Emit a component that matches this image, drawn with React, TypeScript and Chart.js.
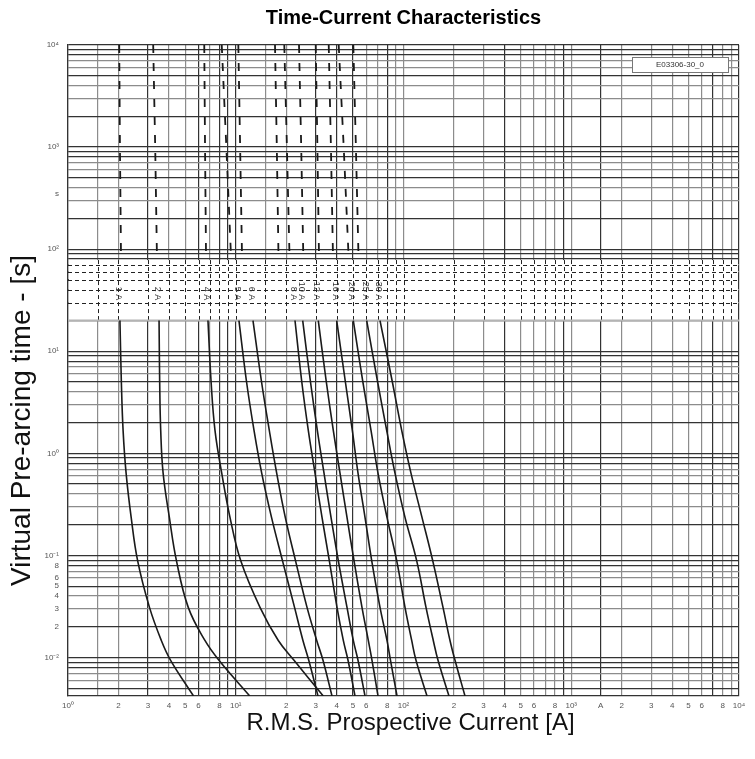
import { useEffect, useRef } from 'react';
import { Chart, registerables } from 'chart.js';

Chart.register(...registerables);

const TITLE = 'Time-Current Characteristics';
const X_TITLE = 'R.M.S. Prospective Current [A]';
const Y_TITLE = 'Virtual Pre-arcing time - [s]';
const TAG = 'E03306-30_0';

const X_MIN = 1;
const X_MAX = 10000;
const Y_MIN = 0.0042;
const Y_MAX = 10000;

const MANTISSAS = [1, 2, 3, 4, 5, 6, 7, 8, 9];
const X_DECADES = [1, 10, 100, 1000];
const X_EXTRA = [1.5, 15, 1500];
const X_LABELED_MANTISSAS = [2, 3, 4, 5, 6, 8];
const X_UNIT_VALUE = 1500;
const X_UNIT_LABEL = 'A';
const Y_DECADES = [0.001, 0.01, 0.1, 1, 10, 100, 1000];
const Y_LABELED_DECADE = 0.01;
const Y_LABELED_MANTISSAS = [2, 3, 4, 5, 6, 8];
const Y_UNIT_VALUE = 350;
const Y_UNIT_LABEL = 's';

// band of dashed grid (seconds)
const BAND_TOP = 80;
const BAND_BOTTOM = 20;
const BAND_LINES = [70, 60, 50, 40, 30];
const LABEL_TIME = 31.6;

// times (s) of the dashed long-time part and of the solid part
const T_LONG = [10000, 1000, 85];
const T_SHORT = [20, 5, 1.68, 0.64, 0.236, 0.089, 0.031, 0.0147, 0.0094, 0.0042];

const FUSE_LABELS = ['1 A', '2 A', '4 A', '5 A', '6 A', '8 A', '10 A', '12 A', '16 A', '20 A', '25 A', '30 A'];

// currents (A) of each fuse, dashed part
const L_1A = [2.02, 2.04, 2.07];
const L_2A = [3.22, 3.31, 3.39];
const L_4A = [6.49, 6.56, 6.65];
const L_5A = [8.25, 8.79, 9.37];
const L_6A = [10.36, 10.62, 10.9];
const L_8A = [17.14, 17.57, 17.98];
const L_10A = [19.47, 20.18, 20.92];
const L_12A = [23.83, 24.56, 25.28];
const L_16A = [29.97, 30.67, 31.35];
const L_20A = [35.83, 36.93, 37.99];
const L_25A = [41.09, 44.01, 47.07];
const L_30A = [50.21, 52.03, 53.92];

// currents (A) of each fuse, solid part
const S_1A = [2.04, 2.08, 2.13, 2.22, 2.38, 2.6, 3.06, 3.6, 4.09, 5.6];
const S_2A = [3.49, 3.52, 3.57, 3.69, 4.02, 4.43, 5.21, 6.55, 7.94, 12.12];
const S_4A = [6.83, 7.13, 7.52, 8.25, 9.24, 10.7, 13.95, 17.93, 22.25, 33.25];
const S_5A = [10.45, 11.6, 12.85, 14.28, 16.34, 18.99, 22.41, 25.15, 27.24, 30.92];
const S_6A = [12.67, 14.25, 15.85, 17.54, 19.74, 22.71, 26.6, 30.38, 33.12, 37.48];
const S_8A = [22.55, 24.76, 27.07, 29.68, 32.68, 36.12, 40.14, 43.77, 46.7, 51.4];
const S_10A = [25.07, 27.9, 30.64, 33.59, 36.98, 40.87, 46.05, 50.21, 53.56, 58.96];
const S_12A = [31.05, 34.67, 38.15, 41.83, 46.05, 50.7, 56.56, 61.69, 64.9, 70.47];
const S_16A = [39.98, 45.04, 49.54, 53.56, 58.96, 64.63, 72.44, 79.72, 83.66, 91.48];
const S_20A = [50.21, 57.27, 64.02, 70.47, 79.72, 91.09, 102.1, 111.9, 118.7, 138.1];
const S_25A = [60.35, 70.11, 79.39, 88.98, 102.1, 119.8, 136.2, 150.5, 160.6, 186.7];
const S_30A = [72.44, 85.83, 97.56, 110.8, 128.9, 149.3, 172.0, 189.3, 202.8, 232.6];

const LONG_PARTS = [L_1A, L_2A, L_4A, L_5A, L_6A, L_8A, L_10A, L_12A, L_16A, L_20A, L_25A, L_30A];
const SHORT_PARTS = [S_1A, S_2A, S_4A, S_5A, S_6A, S_8A, S_10A, S_12A, S_16A, S_20A, S_25A, S_30A];

const FONT = "'Liberation Sans', Arial, sans-serif";
const DARK = '#333333';
const GRAY = '#8c8c8c';
const CURVE = '#1a1a1a';

const SUP: Record<string, string> = { '0': '⁰', '1': '¹', '2': '²', '3': '³', '4': '⁴', '-': '⁻' };
const sup = (n: number) => String(n).split('').map((c) => SUP[c] || c).join('');

const decadeOf = (v: number) => Math.floor(Math.log10(v) + 1e-9);
const mantissa = (v: number) => Math.round((v / Math.pow(10, decadeOf(v))) * 10) / 10;
const isDecade = (v: number) => Math.abs(mantissa(v) - 1) < 1e-6;

const X_TICKS = [
  ...X_DECADES.flatMap((d) => MANTISSAS.map((m) => m * d)),
  ...X_EXTRA,
  X_MAX,
].sort((a, b) => a - b);

const Y_TICKS = [
  ...Y_DECADES.flatMap((d) => MANTISSAS.map((m) => +(m * d).toPrecision(6))),
  Y_UNIT_VALUE,
  Y_MAX,
]
  .filter((v) => v >= Y_MIN)
  .sort((a, b) => a - b);

const xLabel = (v: number) => {
  if (Math.abs(v - X_UNIT_VALUE) < 1e-6) return X_UNIT_LABEL;
  if (isDecade(v)) return '10' + sup(decadeOf(v));
  const m = mantissa(v);
  return X_LABELED_MANTISSAS.includes(m) ? String(m) : '';
};

const yLabel = (v: number) => {
  if (Math.abs(v - Y_UNIT_VALUE) < 1e-6) return Y_UNIT_LABEL;
  if (isDecade(v)) return '10' + sup(decadeOf(v));
  const m = mantissa(v);
  if (Math.abs(Math.pow(10, decadeOf(v)) - Y_LABELED_DECADE) < 1e-9 && Y_LABELED_MANTISSAS.includes(m)) return String(m);
  return '';
};

const X_DARK = [1, 3, 6, 8, 9, 10, 30, 40, 50, 80, 400, 900, 1500, 7000, 10000];
const Y_DARK_MANTISSAS = [1, 2, 5, 8, 9];

const xGridColor = (v: number) => (X_DARK.some((d) => Math.abs(d - v) < 1e-6) ? DARK : GRAY);
const yGridColor = (v: number) => {
  if (Math.abs(v - Y_UNIT_VALUE) < 1e-6) return 'rgba(0,0,0,0)';
  return Y_DARK_MANTISSAS.includes(mantissa(v)) ? DARK : GRAY;
};

const bandPlugin = {
  id: 'band',
  beforeDatasetsDraw(chart: any) {
    const { ctx, chartArea: ca, scales } = chart;
    const x = scales.x;
    const y = scales.y;
    const yTop = y.getPixelForValue(BAND_TOP);
    const yBot = y.getPixelForValue(BAND_BOTTOM);
    ctx.save();
    ctx.fillStyle = '#ffffff';
    ctx.fillRect(ca.left + 1, yTop + 1, ca.right - ca.left - 2, yBot - yTop - 1);
    ctx.strokeStyle = '#222';
    ctx.lineWidth = 1;
    ctx.setLineDash([4, 3]);
    X_TICKS.forEach((v) => {
      if (v <= X_MIN || v >= X_MAX) return;
      const px = Math.round(x.getPixelForValue(v)) + 0.5;
      ctx.beginPath();
      ctx.moveTo(px, yTop + 1);
      ctx.lineTo(px, yBot);
      ctx.stroke();
    });
    BAND_LINES.forEach((t) => {
      const py = Math.round(y.getPixelForValue(t)) + 0.5;
      ctx.beginPath();
      ctx.moveTo(ca.left, py);
      ctx.lineTo(ca.right, py);
      ctx.stroke();
    });
    ctx.setLineDash([]);
    ctx.strokeStyle = '#b4b4b4';
    ctx.lineWidth = 2;
    ctx.beginPath();
    ctx.moveTo(ca.left, yBot);
    ctx.lineTo(ca.right, yBot);
    ctx.stroke();
    ctx.restore();
  },
  afterDatasetsDraw(chart: any) {
    const { ctx, scales } = chart;
    const x = scales.x;
    const y = scales.y;
    ctx.save();
    ctx.font = `9px ${FONT}`;
    ctx.fillStyle = '#333';
    ctx.textAlign = 'right';
    ctx.textBaseline = 'middle';
    FUSE_LABELS.forEach((label, i) => {
      const px = x.getPixelForValue(SHORT_PARTS[i][0]) - 1.5;
      const py = y.getPixelForValue(LABEL_TIME);
      ctx.save();
      ctx.translate(px, py);
      ctx.rotate(Math.PI / 2);
      ctx.fillText(label, 0, 0);
      ctx.restore();
    });
    ctx.restore();
  },
  afterDraw(chart: any) {
    const { ctx, chartArea: ca } = chart;
    ctx.save();
    // tag box
    const bx = ca.right - 107;
    const by = ca.top + 12;
    ctx.fillStyle = '#fff';
    ctx.fillRect(bx, by, 96, 15);
    ctx.strokeStyle = '#777';
    ctx.lineWidth = 1;
    ctx.strokeRect(bx + 0.5, by + 0.5, 96, 15);
    ctx.fillStyle = '#333';
    ctx.font = `8px ${FONT}`;
    ctx.textAlign = 'center';
    ctx.textBaseline = 'middle';
    ctx.fillText(TAG, bx + 48, by + 8);
    // axis titles
    ctx.fillStyle = '#111';
    ctx.font = `24px ${FONT}`;
    ctx.fillText(X_TITLE, (ca.left + ca.right) / 2 + 7, ca.bottom + 27);
    ctx.font = `28px ${FONT}`;
    ctx.translate(22, (ca.top + ca.bottom) / 2 + 50);
    ctx.rotate(-Math.PI / 2);
    ctx.fillText(Y_TITLE, 0, 0);
    ctx.restore();
  },
};

export default function App() {
  const ref = useRef<HTMLCanvasElement | null>(null);
  useEffect(() => {
    document.body.style.margin = '0';
    if (!ref.current) return;
    const datasets: any[] = [];
    FUSE_LABELS.forEach((label, i) => {
      datasets.push({
        label: label + ' long',
        data: LONG_PARTS[i].map((v, k) => ({ x: v, y: T_LONG[k] })),
        borderColor: CURVE,
        borderWidth: 1.8,
        borderDash: [8, 10],
        pointRadius: 0,
        showLine: true,
        tension: 0,
      });
      datasets.push({
        label,
        data: SHORT_PARTS[i].map((v, k) => ({ x: v, y: T_SHORT[k] })),
        borderColor: CURVE,
        borderWidth: 1.6,
        pointRadius: 0,
        showLine: true,
        tension: 0.4,
      });
    });
    const chart = new Chart(ref.current, {
      type: 'scatter',
      data: { datasets },
      plugins: [bandPlugin],
      options: {
        responsive: false,
        animation: false,
        events: [],
        layout: { padding: { left: 0, right: 16, top: 0, bottom: 0 } },
        plugins: {
          legend: { display: false },
          tooltip: { enabled: false },
          title: {
            display: true,
            text: TITLE,
            fullSize: false,
            color: '#000',
            font: { family: FONT, size: 20, weight: 'bold' },
            padding: { top: 6, bottom: 15 },
          },
        },
        scales: {
          x: {
            type: 'logarithmic',
            min: X_MIN,
            max: X_MAX,
            afterBuildTicks: (s: any) => {
              s.ticks = X_TICKS.map((v) => ({ value: v }));
            },
            afterFit: (s: any) => {
              s.height = 63;
              s.paddingLeft = 0;
              s.paddingRight = 0;
            },
            ticks: {
              autoSkip: false,
              maxRotation: 0,
              minRotation: 0,
              padding: 5,
              color: '#555',
              font: { family: FONT, size: 8 },
              callback: (v: any) => xLabel(Number(v)),
            },
            grid: {
              drawTicks: false,
              color: (c: any) => xGridColor(c.tick.value),
              lineWidth: 1.2,
            },
            border: { display: true, color: DARK, width: 1.2 },
          },
          y: {
            type: 'logarithmic',
            min: Y_MIN,
            max: Y_MAX,
            afterBuildTicks: (s: any) => {
              s.ticks = Y_TICKS.map((v) => ({ value: v }));
            },
            afterFit: (s: any) => {
              s.width = 68;
              s.paddingTop = 0;
              s.paddingBottom = 0;
            },
            ticks: {
              autoSkip: false,
              padding: 9,
              color: '#555',
              font: { family: FONT, size: 8 },
              callback: (v: any) => yLabel(Number(v)),
            },
            grid: {
              drawTicks: false,
              color: (c: any) => yGridColor(c.tick.value),
              lineWidth: 1.2,
            },
            border: { display: true, color: DARK, width: 1.2 },
          },
        },
      } as any,
    });
    return () => chart.destroy();
  }, []);
  return (
    <div style={{ position: 'absolute', left: 0, top: 0 }}>
      <canvas ref={ref} width={755} height={759} />
    </div>
  );
}
